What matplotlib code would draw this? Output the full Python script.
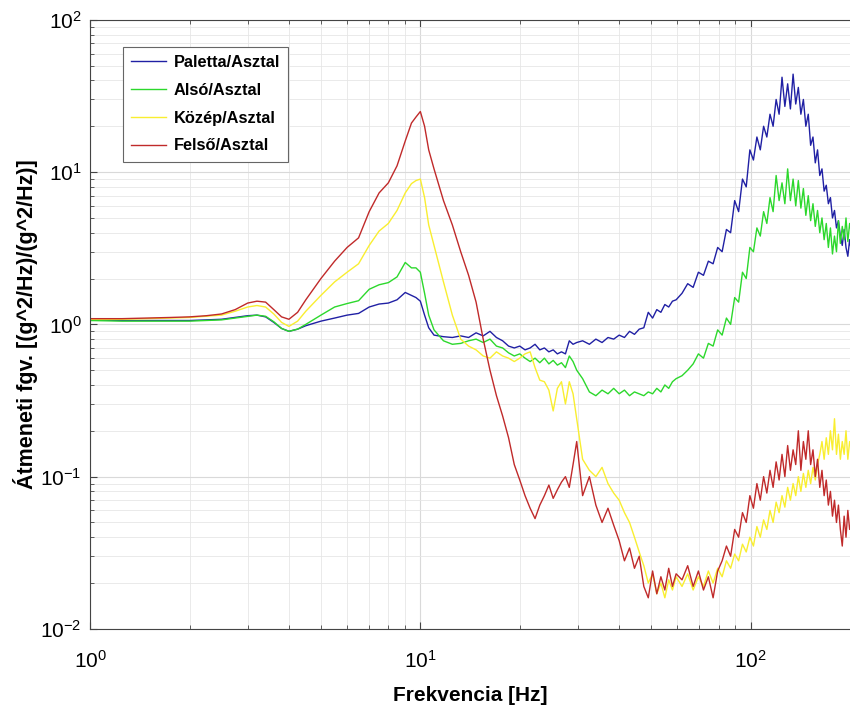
import matplotlib
matplotlib.use("Agg")
import matplotlib.pyplot as plt
from matplotlib.ticker import LogLocator, NullFormatter

plt.rcParams['font.family'] = ['Liberation Sans', 'DejaVu Sans']
plt.rcParams['axes.unicode_minus'] = False

# frequency points [Hz]
freq = [1.0, 1.25, 1.5, 1.75, 2.0, 2.25, 2.5, 2.75, 3.0, 3.2, 3.4, 3.6, 3.8, 4.0, 4.25, 4.5,
        5.0, 5.5, 6.0, 6.5, 7.0, 7.5, 8.0, 8.5, 9.0, 9.4, 9.7, 10.0, 10.3, 10.6, 11.0,
        11.75, 12.5, 13.25, 14.0, 14.75, 15.5, 16.25, 17.0, 17.75, 18.5, 19.25, 20.0, 20.75,
        21.5, 22.25, 23.0, 23.75, 24.5, 25.25, 26.0, 26.75, 27.5, 28.25, 29.0, 29.75,
        31, 32.5, 34, 35.5, 37, 38.5, 40, 41.5, 43, 44.5, 46, 47.5, 49, 50.5, 52, 53.5,
        55, 56.5, 58, 59.5,
        62, 64.5, 67, 69.5, 72, 74.5, 77, 79.5, 82, 84.5, 87, 89.5, 92, 94.5, 97, 99.5,
        102, 104.5, 107, 109.5, 112, 114.5, 117, 119.5, 122, 124.5, 127, 129.5, 132, 134.5,
        137, 139.5, 142, 144.5, 147, 149.5, 152, 154.5, 157, 159.5, 162, 164.5, 167, 169.5,
        172, 174.5, 177, 179.5, 182, 184.5, 187, 189.5, 192, 194.5, 197, 199.5, 202]

paletta = [1.07, 1.06, 1.06, 1.06, 1.06, 1.07, 1.08, 1.11, 1.14, 1.15, 1.12, 1.03, 0.94, 0.90, 0.93, 0.98,
           1.05, 1.10, 1.15, 1.18, 1.30, 1.36, 1.38, 1.45, 1.62, 1.55, 1.50, 1.42, 1.15, 0.95, 0.85,
           0.83, 0.82, 0.84, 0.82, 0.88, 0.84, 0.90, 0.82, 0.78, 0.72, 0.70, 0.72, 0.68,
           0.70, 0.74, 0.68, 0.70, 0.66, 0.68, 0.64, 0.66, 0.64, 0.78, 0.74, 0.76,
           0.78, 0.74, 0.80, 0.76, 0.82, 0.80, 0.85, 0.82, 0.90, 0.86, 0.93, 0.95, 1.20, 1.10, 1.25, 1.20,
           1.35, 1.30, 1.42, 1.45,
           1.6, 1.85, 1.75, 2.2, 2.1, 2.6, 2.5, 3.2, 3.0, 4.2, 4.0, 6.5, 5.5, 9.0, 8.0, 14,
           12, 17, 14, 20, 17, 24, 20, 30, 24, 42, 27, 38, 26, 44,
           28, 36, 24, 30, 20, 24, 15, 17, 11.5, 14, 9.5, 10.5, 7.5, 8.2,
           6.2, 6.8, 5.0, 5.6, 4.3, 4.8, 3.8, 3.3, 4.2, 3.2, 2.8, 3.6, 3.0]

also = [1.06, 1.05, 1.05, 1.05, 1.05, 1.06, 1.07, 1.10, 1.13, 1.15, 1.13, 1.04, 0.94, 0.90, 0.93, 1.00,
        1.15, 1.30, 1.37, 1.43, 1.70, 1.82, 1.88, 2.05, 2.55, 2.35, 2.35, 2.20, 1.60, 1.15, 0.92,
        0.78, 0.74, 0.75, 0.78, 0.80, 0.76, 0.80, 0.72, 0.70, 0.65, 0.62, 0.64, 0.60,
        0.57, 0.60, 0.56, 0.60, 0.55, 0.58, 0.54, 0.56, 0.52, 0.62, 0.57, 0.50,
        0.44, 0.36, 0.34, 0.37, 0.35, 0.38, 0.35, 0.37, 0.34, 0.36, 0.35, 0.34, 0.36, 0.35, 0.38, 0.36,
        0.40, 0.38, 0.42, 0.44,
        0.46, 0.50, 0.55, 0.64, 0.60, 0.75, 0.72, 0.92, 0.85, 1.1, 1.0, 1.5, 1.4, 2.2, 2.0, 3.2,
        3.0, 4.3, 3.8, 5.5, 4.6, 6.8, 5.5, 9.5, 6.5, 8.5, 6.2, 10.5, 6.5, 9.0,
        6.0, 8.8, 5.8, 7.8, 5.2, 7.0, 4.8, 6.2, 4.4, 5.6, 4.0, 5.0, 3.6, 4.6,
        3.2, 4.3, 2.9, 3.8, 3.0, 4.8, 3.4, 4.4, 3.6, 5.0, 3.5, 4.6, 4.0]

kozep = [1.08, 1.08, 1.09, 1.10, 1.11, 1.13, 1.15, 1.22, 1.30, 1.33, 1.30, 1.17, 1.03, 0.97, 1.05, 1.22,
         1.55, 1.90, 2.20, 2.50, 3.30, 4.10, 4.60, 5.60, 7.30, 8.40, 8.80, 9.00, 6.80, 4.50, 3.30,
         1.90, 1.15, 0.80, 0.72, 0.68, 0.62, 0.60, 0.66, 0.62, 0.60, 0.57, 0.60, 0.64,
         0.66, 0.52, 0.43, 0.42, 0.37, 0.27, 0.38, 0.42, 0.30, 0.42, 0.35, 0.24,
         0.13, 0.11, 0.10, 0.115, 0.09, 0.078, 0.07, 0.058, 0.05, 0.04, 0.032, 0.026, 0.02, 0.023, 0.017, 0.02,
         0.016, 0.021, 0.018, 0.022,
         0.019, 0.023, 0.018, 0.022, 0.019, 0.024, 0.020, 0.025, 0.022, 0.028, 0.025, 0.031, 0.028, 0.036, 0.032, 0.040,
         0.035, 0.047, 0.040, 0.052, 0.045, 0.060, 0.050, 0.068, 0.058, 0.075, 0.063, 0.085, 0.070, 0.090,
         0.075, 0.10, 0.08, 0.105, 0.085, 0.11, 0.09, 0.115, 0.095, 0.12, 0.14, 0.17, 0.13, 0.18,
         0.14, 0.20, 0.15, 0.24, 0.14, 0.19, 0.13, 0.17, 0.14, 0.20, 0.13, 0.17, 0.15]

felso = [1.09, 1.09, 1.10, 1.11, 1.12, 1.14, 1.17, 1.25, 1.38, 1.42, 1.40, 1.25, 1.12, 1.08, 1.20, 1.45,
         2.0, 2.6, 3.2, 3.7, 5.5, 7.3, 8.5, 11.0, 16, 21, 23, 25, 20, 14, 10.5,
         6.5, 4.5, 3.0, 2.1, 1.4, 0.8, 0.5, 0.34, 0.25, 0.18, 0.12, 0.095, 0.075,
         0.062, 0.053, 0.065, 0.075, 0.088, 0.072, 0.082, 0.092, 0.10, 0.085, 0.12, 0.17,
         0.075, 0.10, 0.065, 0.05, 0.062, 0.048, 0.038, 0.028, 0.034, 0.025, 0.03, 0.019, 0.016, 0.024, 0.017, 0.022,
         0.018, 0.025, 0.019, 0.023,
         0.021, 0.026, 0.019, 0.024, 0.018, 0.022, 0.016, 0.024, 0.028, 0.035, 0.030, 0.045, 0.040, 0.058, 0.050, 0.075,
         0.062, 0.09, 0.07, 0.10, 0.078, 0.11, 0.085, 0.125, 0.095, 0.14, 0.10, 0.16, 0.11, 0.15,
         0.12, 0.20, 0.11, 0.17, 0.13, 0.20, 0.12, 0.15, 0.10, 0.13, 0.085, 0.11, 0.075, 0.095,
         0.065, 0.08, 0.055, 0.07, 0.05, 0.065, 0.045, 0.035, 0.055, 0.04, 0.06, 0.045, 0.05]

labels = ["Paletta/Asztal", "Alsó/Asztal", "Közép/Asztal", "Felső/Asztal"]
colors = ["#2020a4", "#2cd82c", "#f9ee30", "#c02a2a"]

fig = plt.figure(figsize=(8.5, 7.09), dpi=100)
ax = fig.add_axes([0.106, 0.113, 0.894, 0.859])

for ys, lab, c in zip([paletta, also, kozep, felso], labels, colors):
    ax.plot(freq, ys, color=c, lw=1.0, label=lab)

ax.set_xscale('log')
ax.set_yscale('log')
ax.set_xlim(1, 200)
ax.set_ylim(1e-2, 1e2)

ax.xaxis.set_minor_locator(LogLocator(base=10, subs=range(2, 10), numticks=20))
ax.yaxis.set_minor_locator(LogLocator(base=10, subs=range(2, 10), numticks=20))
ax.xaxis.set_minor_formatter(NullFormatter())
ax.yaxis.set_minor_formatter(NullFormatter())

ax.grid(True, which='major', color='#d9d9d9', lw=0.8)
ax.grid(True, which='minor', color='#e6e6e6', lw=0.6)
ax.set_axisbelow(True)

ax.tick_params(which='both', direction='in', top=True, right=False, color='#444444')
ax.tick_params(which='major', length=5, labelsize=15)
ax.tick_params(axis='x', which='major', pad=15)
ax.tick_params(axis='y', which='major', pad=6)
ax.tick_params(which='minor', length=3)
ax.spines['right'].set_visible(False)
for s in ['left', 'bottom', 'top']:
    ax.spines[s].set_color('#444444')
    ax.spines[s].set_linewidth(0.8)

ax.set_xlabel("Frekvencia [Hz]", fontsize=15, fontweight='bold', labelpad=10)
ax.set_ylabel("Átmeneti fgv. [(g^2/Hz)/(g^2/Hz)]", fontsize=15.5, fontweight='bold', labelpad=2)

leg = ax.legend(loc='upper left', bbox_to_anchor=(0.0434, 0.9557), borderaxespad=0,
                fancybox=False, framealpha=1, edgecolor='#666666',
                handlelength=2.1, handletextpad=0.5,
                prop={'weight': 'bold', 'size': 11.8}, borderpad=0.5, labelspacing=0.78)
leg.get_frame().set_linewidth(0.8)

fig.savefig("out.png", dpi=100)
